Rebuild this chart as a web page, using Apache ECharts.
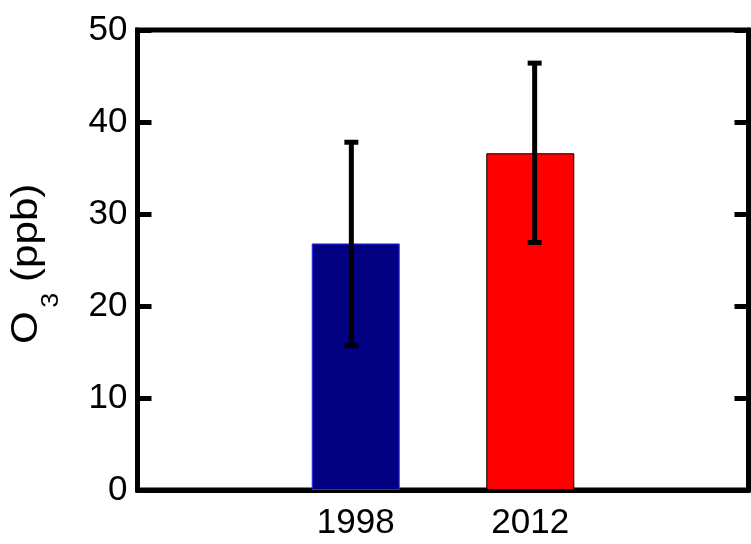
<!DOCTYPE html>
<html>
<head>
<meta charset="utf-8">
<script src="https://cdn.jsdelivr.net/npm/echarts@6/dist/echarts.min.js"></script>
<style>
  html, body { margin: 0; padding: 0; background: #fff; }
  #chart { width: 751px; height: 544px; }
</style>
</head>
<body>
<div id="chart"></div>
<script>
// 数据
const years = ['1998', '2012']
const xPos = [1, 2]
const ozone = [26.8, 36.6]
// 误差线在原图中略微偏离柱中心
const errX = [0.975, 2.025]
const errLow = [15.7, 26.9]
const errHigh = [37.8, 46.4]
const barColors = ['#000080', '#ff0000']
const barBorders = ['#2a2aff', '#000000']
const yTicks = [0, 10, 20, 30, 40, 50]

const chart = echarts.init(document.getElementById('chart'))

const font = '"Liberation Sans", Arial, sans-serif'

// 误差线：竖线 + 上下横帽
function renderErr (params, api) {
  const x = api.value(0)
  const lo = api.coord([x, api.value(1)])
  const hi = api.coord([x, api.value(2)])
  const cap = 7
  const style = { stroke: '#000', lineWidth: 5 }
  return {
    type: 'group',
    children: [
      { type: 'line', shape: { x1: lo[0], y1: lo[1], x2: hi[0], y2: hi[1] }, style },
      { type: 'line', shape: { x1: lo[0] - cap, y1: lo[1], x2: lo[0] + cap, y2: lo[1] }, style },
      { type: 'line', shape: { x1: hi[0] - cap, y1: hi[1], x2: hi[0] + cap, y2: hi[1] }, style },
    ],
  }
}

function nameText (text, x, y, size) {
  return {
    type: 'text',
    x,
    y,
    style: { text, fontFamily: font, fontSize: size, fill: '#000', align: 'left', verticalAlign: 'middle' },
  }
}

const yAxisBase = {
  type: 'value',
  min: 0,
  max: 50,
  interval: 10,
  splitLine: { show: false },
  axisLine: { show: true, onZero: false, lineStyle: { color: '#000', width: 5 } },
  axisTick: { show: true, inside: true, length: 14, lineStyle: { color: '#000', width: 5 } },
}

chart.setOption({
  animation: false,
  grid: {
    left: 137.5,
    right: 2.5,
    top: 30,
    bottom: 54,
    show: true,
    borderWidth: 5,
    borderColor: '#000',
  },
  // 原图 y 轴标题沿文字方向略被拉长，用旋转 + 缩放的 group 还原
  graphic: [{
    type: 'group',
    x: 0,
    y: 344,
    rotation: Math.PI / 2,
    scaleX: 1.17,
    scaleY: 1,
    children: [
      nameText('O', 0, 27, 36),
      nameText('3', 31, 52, 23),
      nameText('(ppb)', 53, 27, 36),
    ],
  }],
  xAxis: {
    type: 'value',
    min: -0.25,
    max: 3.25,
    splitLine: { show: false },
    axisLine: { show: true, onZero: false, lineStyle: { color: '#000', width: 5 } },
    axisTick: { show: false },
    axisLabel: {
      customValues: xPos,
      formatter: v => years[xPos.indexOf(v)] || '',
      color: '#000',
      fontFamily: font,
      fontSize: 35,
      margin: 16,
    },
  },
  yAxis: [
    Object.assign({}, yAxisBase, {
      axisLabel: {
        color: '#000',
        fontFamily: font,
        fontSize: 35,
        margin: 10,
        customValues: yTicks,
      },
    }),
    Object.assign({}, yAxisBase, {
      position: 'right',
      axisLabel: { show: false },
    }),
  ],
  series: [
    {
      type: 'bar',
      barWidth: 88,
      data: xPos.map((x, i) => ({
        value: [x, ozone[i]],
        itemStyle: { color: barColors[i], borderColor: barBorders[i], borderWidth: 1 },
      })),
    },
    {
      type: 'custom',
      renderItem: renderErr,
      z: 10,
      data: errX.map((x, i) => [x, errLow[i], errHigh[i]]),
    },
  ],
})
</script>
</body>
</html>
